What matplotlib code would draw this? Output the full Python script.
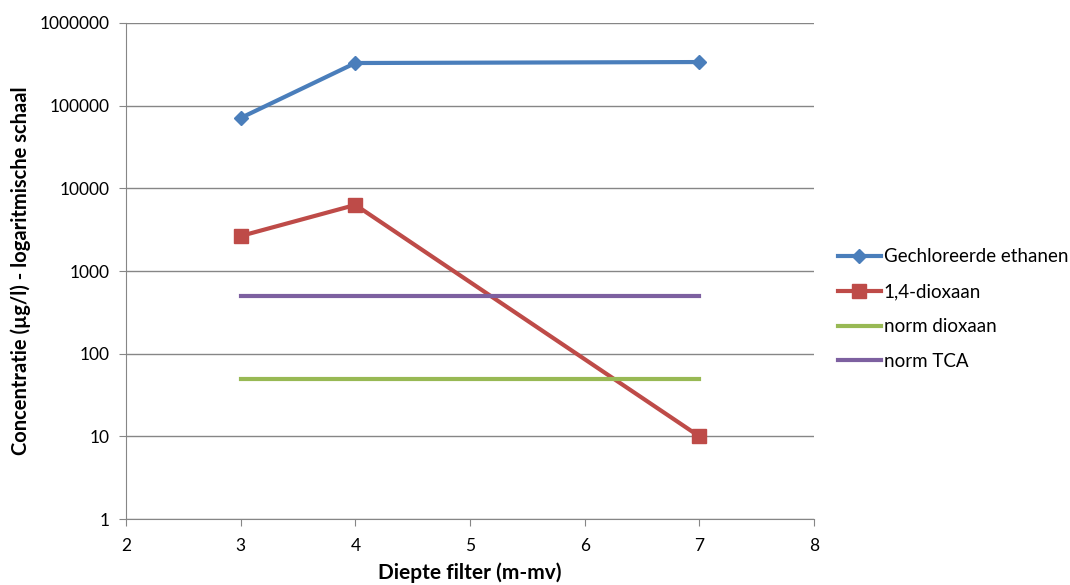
import matplotlib
matplotlib.use("Agg")
import matplotlib.pyplot as plt
from matplotlib.ticker import FixedLocator, FixedFormatter, NullLocator

plt.rcParams['font.family'] = ['Lato', 'DejaVu Sans']

# data
depth = [3, 4, 7]
gechloreerde = [71000, 328000, 337000]
dioxaan = [2650, 6300, 10]
norm_dioxaan = [50, 50, 50]
norm_tca = [500, 500, 500]

y_ticks = [1, 10, 100, 1000, 10000, 100000, 1000000]
y_labels = ["1", "10", "100", "1000", "10000", "100000", "1000000"]
x_ticks = [2, 3, 4, 5, 6, 7, 8]

fig = plt.figure(figsize=(10.7, 5.85), dpi=100)
ax = fig.add_axes([0.1178, 0.1128, 0.6429, 0.8479])

ax.plot(depth, gechloreerde, color="#4A7EBB", lw=3, marker="D", ms=7,
        label="Gechloreerde ethanen")
ax.plot(depth, dioxaan, color="#BE4B48", lw=3, marker="s", ms=10,
        label="1,4-dioxaan")
ax.plot(depth, norm_dioxaan, color="#98B954", lw=3, label="norm dioxaan")
ax.plot(depth, norm_tca, color="#7D60A0", lw=3, label="norm TCA")

ax.set_yscale("log")
ax.set_ylim(1, 1000000)
ax.set_xlim(2, 8)
ax.yaxis.set_major_locator(FixedLocator(y_ticks))
ax.yaxis.set_major_formatter(FixedFormatter(y_labels))
ax.yaxis.set_minor_locator(NullLocator())
ax.set_xticks(x_ticks)
ax.grid(axis="y", color="#868686", lw=1)
ax.set_axisbelow(True)

for s in ["top", "right"]:
    ax.spines[s].set_visible(False)
for s in ["left", "bottom"]:
    ax.spines[s].set_color("#868686")
ax.tick_params(axis="both", direction="out", color="#868686", length=5,
               labelsize=12.5, pad=7)
ax.tick_params(axis="x", pad=9)

ax.set_xlabel("Diepte filter (m-mv)", fontsize=15, fontweight="bold", labelpad=6)
ax.set_ylabel("Concentratie (µg/l) - logaritmische schaal", fontsize=14.5,
              fontweight="bold", labelpad=6)

ax.legend(loc="center left", bbox_to_anchor=(1.01, 0.423), frameon=False,
          fontsize=13.5, handlelength=2.3, labelspacing=0.95, handletextpad=0.15)

fig.savefig("out.png", dpi=100)
